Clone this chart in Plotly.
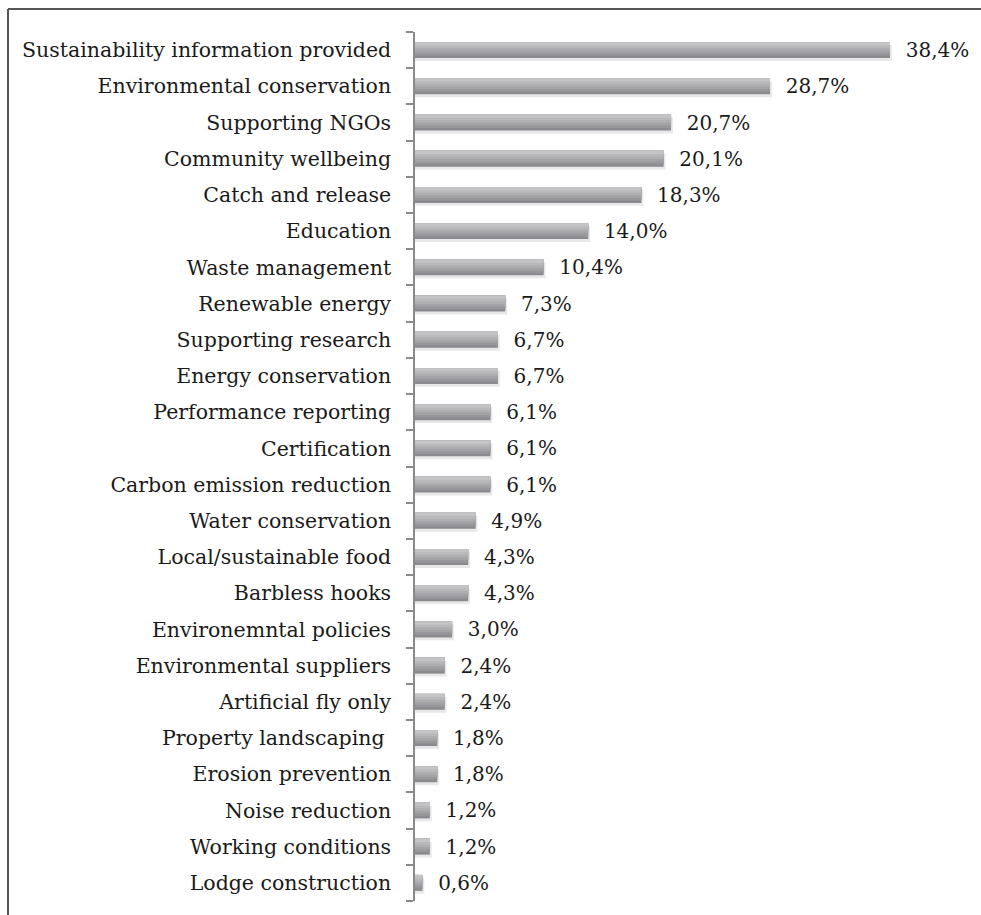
import plotly.graph_objects as go

categories = [
    "Sustainability information provided", "Environmental conservation", "Supporting NGOs",
    "Community wellbeing", "Catch and release", "Education", "Waste management",
    "Renewable energy", "Supporting research", "Energy conservation", "Performance reporting",
    "Certification", "Carbon emission reduction", "Water conservation",
    "Local/sustainable food", "Barbless hooks", "Environemntal policies",
    "Environmental suppliers", "Artificial fly only", "Property landscaping ",
    "Erosion prevention", "Noise reduction", "Working conditions", "Lodge construction",
]
values = [38.4, 28.7, 20.7, 20.1, 18.3, 14.0, 10.4, 7.3, 6.7, 6.7, 6.1, 6.1, 6.1,
          4.9, 4.3, 4.3, 3.0, 2.4, 2.4, 1.8, 1.8, 1.2, 1.2, 0.6]
labels = [f"{v:.1f}".replace(".", ",") + "%" for v in values]

pos = list(range(len(categories)))
W = 0.44
FONT = "DejaVu Serif, Liberation Serif, serif"

fig = go.Figure()
# soft shadow
fig.add_trace(go.Bar(x=[v + 0.15 for v in values], y=pos, orientation="h",
                     width=W, offset=-W / 2 + 0.08, marker=dict(color="#e8e8e8", line_width=0),
                     hoverinfo="skip", showlegend=False))
# dark base with value labels
fig.add_trace(go.Bar(x=values, y=pos, orientation="h", width=W, offset=-W / 2,
                     marker=dict(color="#8b8b8f", line_width=0), showlegend=False,
                     text=["\u00a0\u00a0" + t for t in labels], textposition="outside",
                     constraintext="none",
                     textfont=dict(family=FONT, size=20, color="#1a1a1a"), cliponaxis=False))
# gradient layers, covering progressively smaller top portions
shades = [("#97979b", 0.37), ("#a3a3a6", 0.30), ("#aeaeb1", 0.23), ("#b9b9bb", 0.16), ("#c4c4c6", 0.09)]
for col, wd in shades:
    fig.add_trace(go.Bar(x=values, y=pos, orientation="h", width=wd, offset=-W / 2,
                         marker=dict(color=col, line_width=0), hoverinfo="skip", showlegend=False))

L, R, T, B = 415, 21, 32, 14
plot_w = 981 - L - R
plot_h = 915 - T - B
px_per_unit = 475 / 38.4
xmax = plot_w / px_per_unit

def px_x(px):
    return (px - L) / plot_w

def px_y(py):
    return 1 - (py - T) / plot_h

fig.update_layout(
    width=981, height=915, barmode="overlay",
    margin=dict(l=L, r=R, t=T, b=B),
    paper_bgcolor="white", plot_bgcolor="white",
    uniformtext=dict(mode=False),
    xaxis=dict(range=[0, xmax], visible=False, showgrid=False, zeroline=False),
    yaxis=dict(range=[len(categories) - 0.5, -0.5], tickmode="array", tickvals=pos,
               ticktext=categories, ticks="", showgrid=False, zeroline=False,
               showline=True, linecolor="#8a8a8a", linewidth=1.5,
               ticklabelstandoff=18,
               tickfont=dict(family=FONT, size=20.5, color="#1a1a1a"),
               minor=dict(tickmode="linear", tick0=-0.5, dtick=1, ticks="outside",
                          ticklen=7, tickwidth=1.5, tickcolor="#8a8a8a", showgrid=False)),
    shapes=[
        dict(type="line", xref="paper", yref="paper", x0=px_x(8), x1=px_x(990),
             y0=px_y(9), y1=px_y(9), line=dict(color="#555555", width=2)),
        dict(type="line", xref="paper", yref="paper", x0=px_x(8), x1=px_x(8),
             y0=px_y(9), y1=px_y(920), line=dict(color="#555555", width=2)),
    ],
)

fig.write_html("out.html")
